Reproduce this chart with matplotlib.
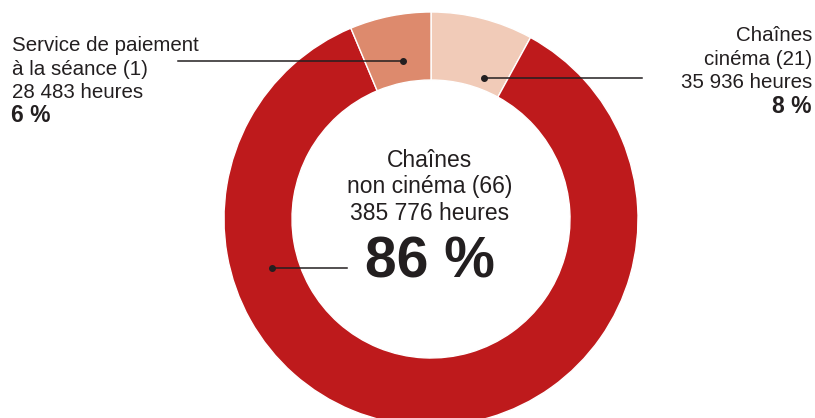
import matplotlib
matplotlib.use("Agg")
import matplotlib.pyplot as plt

# Broadcast hours by channel type
categories = ["Chaînes cinéma", "Chaînes non cinéma", "Service de paiement à la séance"]
counts = [21, 66, 1]
hours = [35936, 385776, 28483]
percent_labels = ["8 %", "86 %", "6 %"]
colors = ["#F1CBB8", "#BE1A1C", "#DD8A6D"]

W, H = 815, 418
FONT = ["Liberation Sans", "DejaVu Sans"]
TXT = "#231f20"

fig = plt.figure(figsize=(W / 100, H / 100), dpi=100)
ax = fig.add_axes([0, 0, 1, 1])


def Y(y):
    return H - y


cx, cy, r_out, r_in = 431, 219, 207, 139
ax.pie(hours, colors=colors, startangle=90, counterclock=False,
       center=(cx, Y(cy)), radius=r_out, frame=True,
       wedgeprops=dict(width=r_out - r_in, edgecolor="white", linewidth=1))
ax.set_xlim(0, W)
ax.set_ylim(0, H)
ax.set_aspect("equal")
ax.axis("off")


def fmt(n):
    return f"{n:,}".replace(",", " ")


fs = 14.8
fs_pct = 16.5
# Service de paiement label (left)
ax.plot([178, 403], [Y(61), Y(61)], color=TXT, lw=1.1)
ax.plot([403], [Y(61)], "o", color=TXT, ms=4)
lines = ["Service de paiement", f"à la séance ({counts[2]})", f"{fmt(hours[2])} heures"]
for t, yb in zip(lines, [51, 75, 98]):
    ax.text(12, Y(yb), t, ha="left", va="baseline", fontsize=fs, family=FONT, color=TXT)
ax.text(11, Y(122), percent_labels[2], ha="left", va="baseline", fontsize=fs_pct,
        family=FONT, weight="bold", color=TXT)

# Chaînes cinéma label (right)
ax.plot([484, 642], [Y(78), Y(78)], color=TXT, lw=1.1)
ax.plot([484], [Y(78)], "o", color=TXT, ms=4)
lines = ["Chaînes", f"cinéma ({counts[0]})", f"{fmt(hours[0])} heures"]
for t, yb in zip(lines, [41, 65, 88]):
    ax.text(812, Y(yb), t, ha="right", va="baseline", fontsize=fs, family=FONT, color=TXT)
ax.text(812, Y(113), percent_labels[0], ha="right", va="baseline", fontsize=fs_pct,
        family=FONT, weight="bold", color=TXT)

# Chaînes non cinéma label (centre)
ax.plot([272, 347], [Y(268), Y(268)], color=TXT, lw=1.1)
ax.plot([272], [Y(268)], "o", color=TXT, ms=4)
lines = ["Chaînes", f"non cinéma ({counts[1]})", f"{fmt(hours[1])} heures"]
for t, yb in zip(lines, [167, 193, 220]):
    ax.text(430, Y(yb), t, ha="center", va="baseline", fontsize=16.5, family=FONT, color=TXT)
ax.text(430, Y(277), percent_labels[1], ha="center", va="baseline", fontsize=41,
        family=FONT, weight="bold", color=TXT)

fig.savefig("out.png", dpi=100)
